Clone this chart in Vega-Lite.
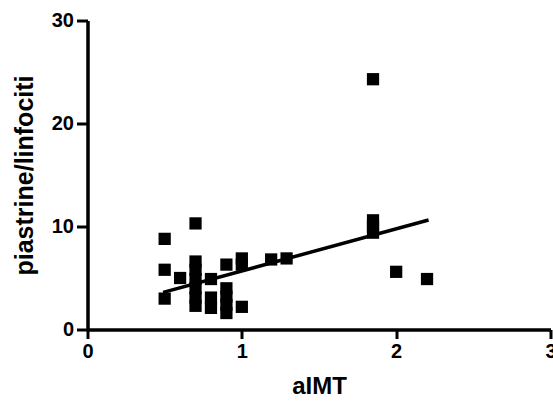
{
  "$schema": "https://vega.github.io/schema/vega-lite/v6.json",
  "width": 463,
  "height": 309,
  "autosize": {"type": "none"},
  "padding": {"left": 87.5, "top": 20.5, "right": 2.5, "bottom": 71.5},
  "background": "white",
  "config": {
    "view": {"stroke": null},
    "font": "Liberation Sans",
    "axis": {
      "grid": false,
      "domainColor": "black",
      "domainWidth": 3.5,
      "tickColor": "black",
      "tickWidth": 3,
      "labelColor": "black",
      "labelFont": "Liberation Sans",
      "labelFontWeight": "bold",
      "labelFontSize": 20,
      "titleColor": "black",
      "titleFont": "Liberation Sans",
      "titleFontWeight": "bold",
      "titleFontSize": 24
    }
  },
  "datasets": {
    "points": [
      {"aIMT": 0.5, "ratio": 8.8},
      {"aIMT": 0.5, "ratio": 5.8},
      {"aIMT": 0.5, "ratio": 3.0},
      {"aIMT": 0.6, "ratio": 5.0},
      {"aIMT": 0.7, "ratio": 10.3},
      {"aIMT": 0.7, "ratio": 6.6},
      {"aIMT": 0.7, "ratio": 5.8},
      {"aIMT": 0.7, "ratio": 4.9},
      {"aIMT": 0.7, "ratio": 4.0},
      {"aIMT": 0.7, "ratio": 3.1},
      {"aIMT": 0.7, "ratio": 2.3},
      {"aIMT": 0.8, "ratio": 4.9},
      {"aIMT": 0.8, "ratio": 3.1},
      {"aIMT": 0.8, "ratio": 2.1},
      {"aIMT": 0.9, "ratio": 6.3},
      {"aIMT": 0.9, "ratio": 4.0},
      {"aIMT": 0.9, "ratio": 3.2},
      {"aIMT": 0.9, "ratio": 2.4},
      {"aIMT": 0.9, "ratio": 1.6},
      {"aIMT": 1.0, "ratio": 6.9},
      {"aIMT": 1.0, "ratio": 6.3},
      {"aIMT": 1.0, "ratio": 2.2},
      {"aIMT": 1.19, "ratio": 6.8},
      {"aIMT": 1.29, "ratio": 6.9},
      {"aIMT": 1.85, "ratio": 24.3},
      {"aIMT": 1.85, "ratio": 10.6},
      {"aIMT": 1.85, "ratio": 10.0},
      {"aIMT": 1.85, "ratio": 9.4},
      {"aIMT": 2.0, "ratio": 5.6},
      {"aIMT": 2.2, "ratio": 4.9}
    ],
    "fit": [
      {"aIMT": 0.49, "ratio": 3.6},
      {"aIMT": 2.21, "ratio": 10.63}
    ]
  },
  "encoding": {
    "x": {
      "field": "aIMT",
      "type": "quantitative",
      "scale": {"domain": [0, 3], "nice": false, "zero": false},
      "axis": {"values": [0, 1, 2, 3], "tickSize": 9, "labelPadding": 3, "titlePadding": 13, "title": "aIMT", "labelFlush": false}
    },
    "y": {
      "field": "ratio",
      "type": "quantitative",
      "scale": {"domain": [0, 30], "nice": false, "zero": false},
      "axis": {"values": [0, 10, 20, 30], "tickSize": 11, "labelPadding": 3, "titlePadding": 14, "title": "piastrine/linfociti", "labelFlush": false, "titleFontSize": 25}
    }
  },
  "layer": [
    {
      "data": {"name": "points"},
      "mark": {"type": "point", "shape": "square", "filled": true, "color": "black", "size": 150, "opacity": 1}
    },
    {
      "data": {"name": "fit"},
      "mark": {"type": "line", "color": "black", "strokeWidth": 3.5}
    }
  ]
}
